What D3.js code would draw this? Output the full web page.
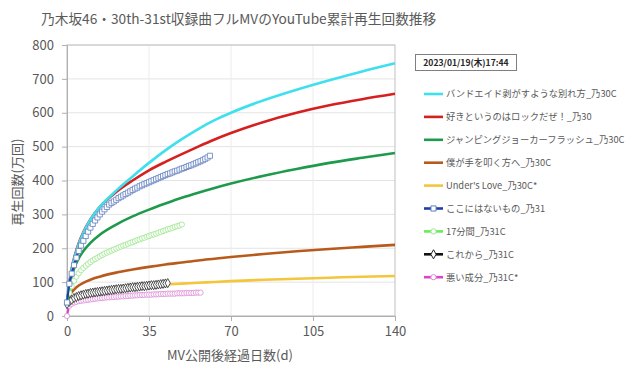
<!DOCTYPE html>
<html>
<head>
<meta charset="utf-8" />
<script src="https://cdnjs.cloudflare.com/ajax/libs/d3/7.8.5/d3.min.js"></script>
<style>
	body {
		margin: 0;
		background: #fff;
		font-family: "Noto Sans CJK JP", "Noto Sans", sans-serif;
	}
	text {
		fill: #595959;
	}
</style>
</head>
<body>
<div id="chart"></div>
<script>
	// days sampled for the 30th single songs (plain lines)
	const lineDays = [0, 1, 2, 3, 5, 7, 10, 14, 21, 28, 35, 42, 49, 56, 63, 70, 84, 98, 112, 126, 140];

	const bandaid = [45, 98, 137, 167, 212, 246, 284, 322, 370, 412, 452, 489, 522, 552, 578, 600, 637, 668, 696, 722, 746];
	const rock = [45, 100, 140, 170, 215, 248, 285, 322, 366, 400, 430, 455, 478, 500, 521, 540, 573, 600, 622, 640, 656];
	const jumping = [40, 88, 118, 140, 170, 192, 216, 240, 270, 294, 314, 332, 349, 364, 378, 391, 414, 434, 452, 467, 481];
	const bokuga = [40, 58, 70, 78, 90, 98, 107, 116, 128, 137, 145, 152, 158, 164, 169, 174, 183, 191, 198, 204, 210];
	const underslove = [35, 45, 51, 56, 62, 67, 72, 77, 83, 87, 90, 93, 95.5, 98, 100.5, 103, 107, 110, 113, 116, 118];

	// 31st single songs, one value per day from day 0
	const kokoni = [40, 95, 125, 150, 172, 192, 208, 222, 236, 249, 261, 272, 282, 291, 300, 308, 315, 322, 329, 334,
		338, 343, 348, 352, 356, 360, 364, 368, 372, 376, 379, 383, 386, 389, 392, 395, 398, 401, 404, 407,
		410, 413, 416, 419, 421, 424, 427, 429, 432, 435, 437, 440, 443, 445, 448, 451, 454, 457, 460, 464, 468, 473];
	const juunana = [40, 68, 88, 104, 116, 126, 135, 142, 148, 154, 159, 164, 168, 172, 176, 180, 184, 187, 190, 193,
		196, 199, 202, 205, 208, 210, 213, 216, 218, 221, 224, 226, 229, 231, 234, 236, 239, 241, 243, 246,
		248, 251, 253, 256, 258, 260, 263, 265, 267, 270];
	const korekara = [35, 42, 48, 53, 56, 59, 61, 63, 65, 66, 68, 69, 70, 71, 72, 73, 74, 75, 76, 77,
		78, 79, 80, 80, 81, 82, 83, 84, 85, 85, 86, 87, 88, 88, 89, 90, 91, 91, 92, 93, 94, 95, 96, 97];
	const waruiseibun = [0, 30, 36, 40, 42, 44, 45, 46, 47, 48, 49, 50, 51, 52, 53, 53, 54, 55, 55, 56,
		56, 57, 57, 58, 58, 59, 59, 60, 60, 61, 61, 62, 62, 62, 63, 63, 63, 64, 64, 64,
		65, 65, 65, 66, 66, 66, 66, 67, 67, 67, 67, 68, 68, 68, 68, 69, 69, 69];

	const xTicks = [0, 35, 70, 105, 140];
	const yTicks = [0, 100, 200, 300, 400, 500, 600, 700, 800];

	const lineSeries = [
		{ name: 'バンドエイド剥がすような別れ方_乃30C', values: bandaid, color: '#3fe0ee' },
		{ name: '好きというのはロックだぜ！_乃30', values: rock, color: '#d61f1f' },
		{ name: 'ジャンピングジョーカーフラッシュ_乃30C', values: jumping, color: '#1e9a4c' },
		{ name: '僕が手を叩く方へ_乃30C', values: bokuga, color: '#b85a1c' },
		{ name: "Under's Love_乃30C*", values: underslove, color: '#f3c63c' },
	];
	const markerSeries = [
		{ name: 'ここにはないもの_乃31', values: kokoni, color: '#1f3fa8', mark: '#5f7dbd', shape: d3.symbolSquare, size: 26 },
		{ name: '17分間_乃31C', values: juunana, color: '#66ee55', mark: '#9ae68c', shape: d3.symbolCircle, size: 22 },
		{ name: 'これから_乃31C', values: korekara, color: '#111111', mark: '#222222', shape: d3.symbolDiamond, size: 24 },
		{ name: '悪い成分_乃31C*', values: waruiseibun, color: '#dd44cc', mark: '#dc8ad6', shape: d3.symbolCircle, size: 22 },
	];

	const W = 640, H = 375;
	const margin = { top: 45, left: 67, right: 245, bottom: 58 };

	const svg = d3.select('#chart').append('svg')
		.attr('width', W)
		.attr('height', H);

	const x = d3.scaleLinear().domain([0, 140]).range([margin.left, W - margin.right]);
	const y = d3.scaleLinear().domain([0, 800]).range([H - margin.bottom - 1, margin.top]);

	svg.append('text')
		.attr('x', 41)
		.attr('y', 24)
		.style('font-size', '13.7px')
		.style('fill', '#5a5a5a')
		.text('乃木坂46・30th-31st収録曲フルMVのYouTube累計再生回数推移');

	// grid
	svg.append('g')
		.selectAll('line.h')
		.data(yTicks)
		.join('line')
		.attr('x1', x(0)).attr('x2', x(140))
		.attr('y1', d => y(d)).attr('y2', d => y(d))
		.attr('stroke', '#e4e4e4');
	svg.append('g')
		.selectAll('line.v')
		.data(xTicks.slice(1, -1))
		.join('line')
		.attr('x1', d => x(d)).attr('x2', d => x(d))
		.attr('y1', y(0)).attr('y2', y(800))
		.attr('stroke', '#ececec');

	// plot frame
	svg.append('rect')
		.attr('x', x(0)).attr('y', y(800))
		.attr('width', x(140) - x(0)).attr('height', y(0) - y(800))
		.attr('fill', 'none')
		.attr('stroke', '#bfbfbf');

	const xAxis = svg.append('g')
		.attr('transform', `translate(0,${y(0)})`)
		.call(d3.axisBottom(x).tickValues(xTicks).tickSize(5).tickPadding(6));
	const yAxis = svg.append('g')
		.attr('transform', `translate(${x(0)},0)`)
		.call(d3.axisLeft(y).tickValues(yTicks).tickSize(5).tickPadding(8));
	[xAxis, yAxis].forEach(a => {
		a.select('.domain').attr('stroke', '#b0b0b0');
		a.selectAll('.tick line').attr('stroke', '#b0b0b0');
		a.selectAll('.tick text')
			.style('font-size', '13px')
			.style('font-family', '"Noto Sans CJK JP", sans-serif')
			.attr('fill', '#595959');
	});

	svg.append('text')
		.attr('x', 230)
		.attr('y', 360)
		.attr('text-anchor', 'middle')
		.style('font-size', '13px')
		.text('MV公開後経過日数(d)');
	svg.append('text')
		.attr('transform', 'translate(22,182) rotate(-90)')
		.attr('text-anchor', 'middle')
		.style('font-size', '13px')
		.text('再生回数(万回)');

	const line = d3.line()
		.x(d => x(d[0]))
		.y(d => y(d[1]))
		.curve(d3.curveMonotoneX);

	lineSeries.slice().reverse().forEach(s => {
		svg.append('path')
			.datum(lineDays.map((d, i) => [d, s.values[i]]))
			.attr('d', line)
			.attr('fill', 'none')
			.attr('stroke', s.color)
			.attr('stroke-width', 2.6);
	});

	markerSeries.slice().reverse().forEach(s => {
		const pts = s.values.map((v, i) => [i, v]);
		const g = svg.append('g');
		g.append('path')
			.datum(pts)
			.attr('d', line)
			.attr('fill', 'none')
			.attr('stroke', s.color)
			.attr('stroke-width', 2.2);
		g.selectAll('path.m')
			.data(pts)
			.join('path')
			.attr('class', 'm')
			.attr('transform', d => `translate(${x(d[0])},${y(d[1])})`)
			.attr('d', d3.symbol().type(s.shape).size(s.size))
			.attr('fill', '#fff')
			.attr('stroke', s.mark)
			.attr('stroke-width', 0.8);
	});

	// date box
	svg.append('rect')
		.attr('x', 415.5).attr('y', 54.5)
		.attr('width', 101).attr('height', 16)
		.attr('fill', '#fff')
		.attr('stroke', '#7f7f7f');
	svg.append('text')
		.attr('x', 466)
		.attr('y', 66)
		.attr('text-anchor', 'middle')
		.style('font-size', '8.6px')
		.style('font-weight', 'bold')
		.style('fill', '#262626')
		.text('2023/01/19(木)17:44');

	// legend
	const legend = svg.append('g');
	const allSeries = lineSeries.concat(markerSeries);
	allSeries.forEach((s, i) => {
		const ly = 94 + i * 22.9;
		legend.append('line')
			.attr('x1', 424).attr('x2', 443)
			.attr('y1', ly).attr('y2', ly)
			.attr('stroke', s.color)
			.attr('stroke-width', 2.6);
		if (s.shape) {
			legend.append('path')
				.attr('transform', `translate(433.5,${ly})`)
				.attr('d', d3.symbol().type(s.shape).size(s.size))
				.attr('fill', '#fff')
				.attr('stroke', s.mark);
		}
		legend.append('text')
			.attr('x', 446)
			.attr('y', ly + 3.4)
			.style('font-size', '9.3px')
			.text(s.name);
	});
</script>
</body>
</html>
